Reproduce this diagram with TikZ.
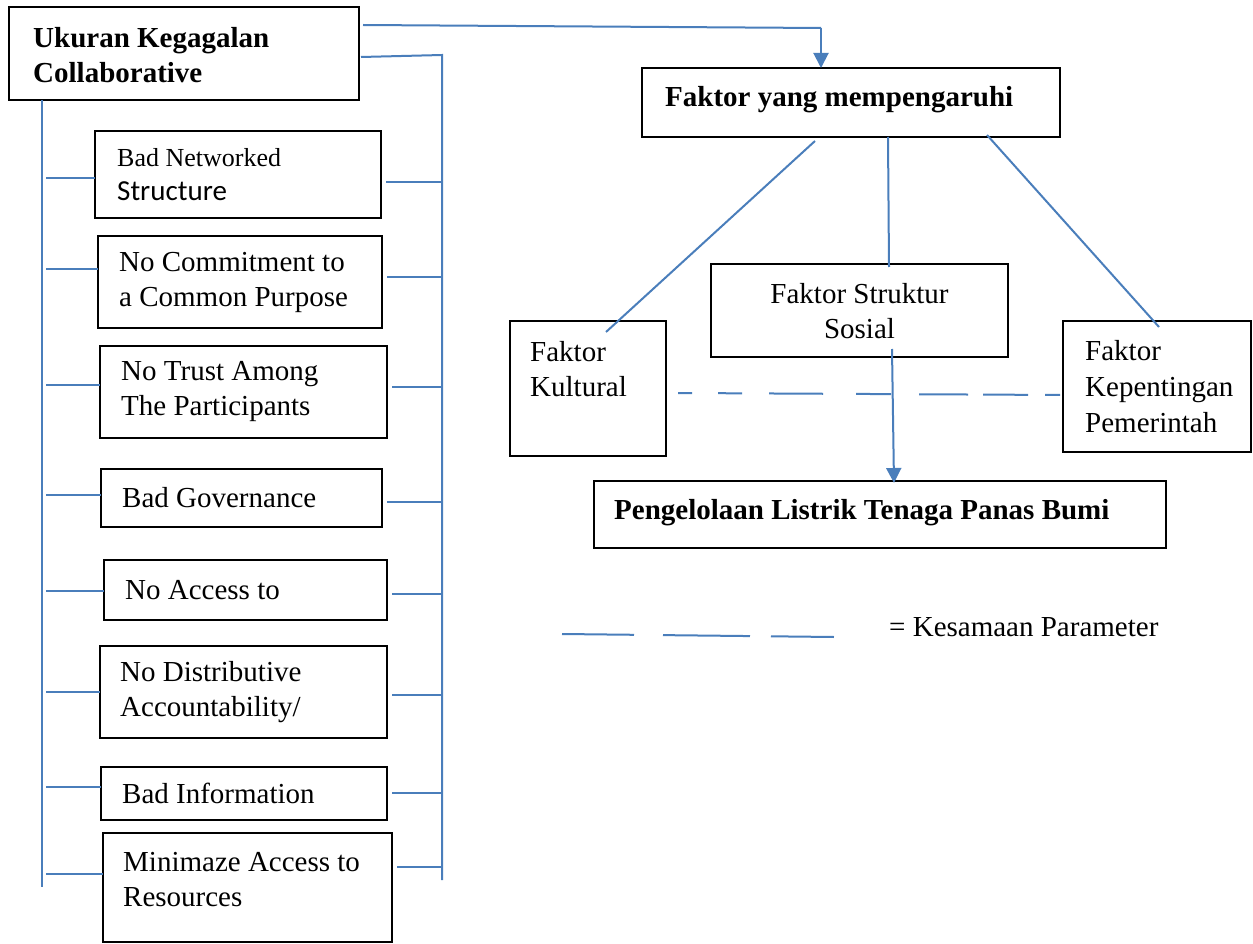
\documentclass[tikz,border=0pt]{standalone}
\usepackage{fontspec}
\setmainfont{Liberation Serif}
\newfontfamily\calibrifont{Carlito}
\usetikzlibrary{arrows.meta}
\definecolor{lineblue}{RGB}{74,126,187}
\begin{document}
\begin{tikzpicture}[x=1pt,y=-1pt,
  box/.style={draw=black, line width=2.5pt, anchor=north west, inner sep=0pt, outer sep=0pt},
  txt/.style={inner sep=0pt, align=left, anchor=west, font=\fontsize{29}{35}\selectfont},
  btxt/.style={txt, font=\fontsize{29}{35}\selectfont\bfseries},
  conn/.style={draw=lineblue, line width=2pt},
  arr/.style={conn, -{Triangle[width=15pt,length=15pt]}, fill=lineblue}]
\useasboundingbox (0,0) rectangle (1253,944);

% boxes
\node[box, minimum width=350pt, minimum height=93pt] (uk) at (9,7) {};
\node[box, minimum width=286pt, minimum height=87pt] (b1) at (95,131) {};
\node[box, minimum width=284pt, minimum height=92pt] (b2) at (98,236) {};
\node[box, minimum width=287pt, minimum height=92pt] (b3) at (100,346) {};
\node[box, minimum width=281pt, minimum height=58pt] (b4) at (101,469) {};
\node[box, minimum width=283pt, minimum height=60pt] (b5) at (104,560) {};
\node[box, minimum width=287pt, minimum height=92pt] (b6) at (100,646) {};
\node[box, minimum width=286pt, minimum height=53pt] (b7) at (101,767) {};
\node[box, minimum width=289pt, minimum height=109pt] (b8) at (103,833) {};
\node[box, minimum width=418pt, minimum height=69pt] (fy) at (642,68) {};
\node[box, minimum width=297pt, minimum height=93pt] (str) at (711,264) {};
\node[box, minimum width=156pt, minimum height=135pt] (kul) at (510,321) {};
\node[box, minimum width=188pt, minimum height=131pt] (kep) at (1063,321) {};
\node[box, minimum width=572pt, minimum height=67pt] (pel) at (594,481) {};

% texts
\node[btxt] (ukt) at ([xshift=24pt,yshift=-2pt]uk.west) {Ukuran Kegagalan\\Collaborative};
\node[txt, font=\fontsize{29}{34}\selectfont] (b1t) at ([xshift=22pt]b1.west) {{\fontsize{26}{34}\selectfont Bad Networked}\\{\calibrifont Structure}};
\node[txt] (b2t) at ([xshift=21pt]b2.west) {No Commitment to\\a Common Purpose};
\node[txt] (b3t) at ([xshift=21pt]b3.west) {No Trust Among\\The Participants};
\node[txt] (b4t) at ([xshift=21pt]b4.west) {Bad Governance};
\node[txt] (b5t) at ([xshift=21pt]b5.west) {No Access to};
\node[txt] (b6t) at ([xshift=20pt]b6.west) {No Distributive\\Accountability/};
\node[txt] (b7t) at ([xshift=21pt]b7.west) {Bad Information};
\node[txt] (b8t) at ([xshift=20pt,yshift=8pt]b8.west) {Minimaze Access to\\Resources};
\node[btxt] (fyt) at ([xshift=23pt,yshift=3pt]fy.west) {Faktor yang mempengaruhi};
\node[txt, align=center, anchor=center] (strt) at ([yshift=-1pt]str.center) {Faktor Struktur\\Sosial};
\node[txt] (kult) at ([xshift=20pt,yshift=19pt]kul.west) {Faktor\\Kultural};
\node[txt, font=\fontsize{29}{36}\selectfont] (kept) at ([xshift=22pt]kep.west) {Faktor\\Kepentingan\\Pemerintah};
\node[btxt] (pelt) at ([xshift=20pt,yshift=2pt]pel.west) {Pengelolaan Listrik Tenaga Panas Bumi};
\node[txt] (leg) at (889,627) {= Kesamaan Parameter};

% helper coordinates
\coordinate (topturn) at (821,28);
\coordinate (rtop) at (442,55);
\coordinate (rbot) at (442,880);
\coordinate (lbot) at (42,887);
\coordinate (lstub) at (46,0);
\coordinate (legA) at (562,634);
\coordinate (legB) at (834,637);

% top connector with arrow
\draw[conn] ([xshift=4pt,yshift=-18pt]uk.north east) -- (topturn);
\draw[arr] (topturn) -- (topturn |- fy.north);

% right spine
\draw[conn] ([xshift=2pt,yshift=-50pt]uk.north east) -- (rtop) -- (rbot);
% left spine
\draw[conn] ([xshift=33pt]uk.south west) -- (lbot);

% stubs (box name / left offset / right offset)
\foreach \b/\l/\r in {b1/-3.5/-7.5, b2/13/5, b3/7/5, b4/3/-4, b5/-1/-4, b6/0/-3, b7/6.5/0.5, b8/13.5/20.5}{
  \draw[conn] ([yshift=\l pt]\b.west -| lstub) -- ([yshift=\l pt]\b.west);
  \draw[conn] ([xshift=5pt,yshift=\r pt]\b.east) -- ([yshift=\r pt]\b.east -| rtop);
}

% factor lines
\draw[conn] ([xshift=-36pt,yshift=-4pt]fy.south) -- ([xshift=18pt,yshift=-11pt]kul.north);
\draw[conn] ([xshift=37pt]fy.south) -- ([xshift=29.5pt,yshift=-3pt]str.north);
\draw[conn] ([xshift=136pt,yshift=2pt]fy.south) -- ([xshift=2pt,yshift=-6pt]kep.north);
\draw[arr] ([xshift=32.5pt,yshift=8pt]str.south) -- ([xshift=14pt,yshift=-2pt]pel.north);

% dashed similarity line
\draw[conn, dash pattern=on 14pt off 26pt on 24pt off 27pt on 54pt off 33pt on 35pt off 28pt on 49pt off 15pt on 45pt off 17pt on 15pt off 10pt]
  ([xshift=12pt,yshift=-4.5pt]kul.east) -- ([yshift=-8.5pt]kep.west);

% legend
\draw[conn, dash pattern=on 72pt off 29pt on 87pt off 21pt on 63pt off 10pt] (legA) -- (legB);
\end{tikzpicture}
\end{document}
